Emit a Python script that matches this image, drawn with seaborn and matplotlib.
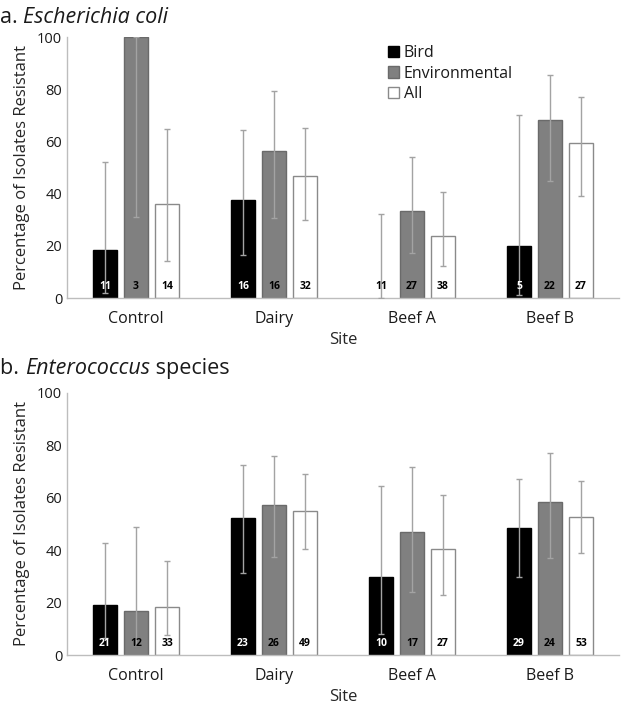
import numpy as np
import pandas as pd
import matplotlib
matplotlib.use("Agg")
import matplotlib.pyplot as plt
import seaborn as sns

# ── data ────────────────────────────────────────────────────────────────────
sites = ["Control", "Dairy", "Beef A", "Beef B"]
groups = ["Bird", "Environmental", "All"]

# a. Escherichia coli
ecoli_bird = [18.5, 37.6, 0.0, 20.1]
ecoli_env = [100.0, 56.4, 33.4, 68.1]
ecoli_all = [36.0, 46.9, 23.7, 59.3]
ecoli_bird_lo = [2.0, 16.3, 0.0, 1.3]
ecoli_bird_hi = [52.2, 64.3, 32.2, 70.3]
ecoli_env_lo = [31.2, 30.6, 17.2, 44.9]
ecoli_env_hi = [100.0, 79.3, 54.1, 85.3]
ecoli_all_lo = [14.0, 29.7, 12.1, 39.1]
ecoli_all_hi = [64.6, 65.2, 40.7, 77.0]
ecoli_n_bird = [11, 16, 11, 5]
ecoli_n_env = [3, 16, 27, 22]
ecoli_n_all = [14, 32, 38, 27]

# b. Enterococcus species
entero_bird = [19.0, 52.2, 29.9, 48.3]
entero_env = [16.7, 57.3, 46.9, 58.3]
entero_all = [18.2, 55.0, 40.6, 52.7]
entero_bird_lo = [6.4, 31.2, 8.0, 29.7]
entero_bird_hi = [42.7, 72.6, 64.6, 67.1]
entero_env_lo = [4.0, 37.3, 24.0, 37.0]
entero_env_hi = [49.0, 76.0, 71.6, 77.1]
entero_all_lo = [7.5, 40.4, 22.9, 38.9]
entero_all_hi = [36.0, 69.2, 61.0, 66.5]
entero_n_bird = [21, 23, 10, 29]
entero_n_env = [12, 26, 17, 24]
entero_n_all = [33, 49, 27, 53]

FACE = {"Bird": "#000000", "Environmental": "#808080", "All": "#ffffff"}
EDGE = {"Bird": "#000000", "Environmental": "#6a6a6a", "All": "#8a8a8a"}
NCOL = {"Bird": "white", "Environmental": "black", "All": "black"}
FONT = ["Open Sans", "DejaVu Sans"]

sns.set_theme(style="white")
plt.rcParams["font.family"] = FONT
plt.rcParams["text.color"] = "#1a1a1a"


def panel(ax, vals, los, his, ns):
    df = pd.DataFrame({
        "Site": sites * 3,
        "Group": np.repeat(groups, len(sites)),
        "Value": vals[0] + vals[1] + vals[2],
    })
    sns.barplot(data=df, x="Site", y="Value", hue="Group", order=sites,
                hue_order=groups, palette=FACE, width=0.675, gap=0.2,
                errorbar=None, ax=ax, legend=False)
    for g, cont, v, lo, hi, n in zip(groups, ax.containers, vals, los, his, ns):
        xs = []
        for p in cont.patches:
            p.set_edgecolor(EDGE[g])
            p.set_linewidth(1.0)
            if p.get_height() == 0:
                p.set_visible(False)
            xs.append(p.get_x() + p.get_width() / 2)
        v = np.array(v)
        yerr = [v - np.array(lo), np.array(hi) - v]
        ax.errorbar(xs, v, yerr=yerr, fmt="none", ecolor="#a3a3a3",
                    elinewidth=1.0, capsize=2, capthick=1.0, zorder=3)
        for x, c, h in zip(xs, n, v):
            col = NCOL[g] if h > 0 else "black"
            ax.text(x, 4.5, str(c), ha="center", va="center", fontsize=7.5,
                    fontweight="bold", color=col, zorder=4)
    ax.set_ylim(0, 100)
    ax.set_xlim(-0.5, 3.5)
    ax.set_yticks(range(0, 101, 20))
    ax.tick_params(axis="both", length=0, labelsize=10.5, colors="#1a1a1a")
    ax.tick_params(axis="x", labelsize=11.5, pad=9)
    ax.set_ylabel("Percentage of Isolates Resistant", fontsize=12, labelpad=5)
    ax.set_xlabel("Site", fontsize=12, labelpad=4)
    for s in ["top", "right"]:
        ax.spines[s].set_visible(False)
    for s in ["left", "bottom"]:
        ax.spines[s].set_color("#bdbdbd")
        ax.spines[s].set_linewidth(1.0)


fig = plt.figure(figsize=(6.25, 7.04), dpi=100)
ax1 = fig.add_axes([0.1072, 0.5767, 0.8832, 0.3707])
ax2 = fig.add_axes([0.1072, 0.0696, 0.8832, 0.3722])

panel(ax1, [ecoli_bird, ecoli_env, ecoli_all],
      [ecoli_bird_lo, ecoli_env_lo, ecoli_all_lo],
      [ecoli_bird_hi, ecoli_env_hi, ecoli_all_hi],
      [ecoli_n_bird, ecoli_n_env, ecoli_n_all])
panel(ax2, [entero_bird, entero_env, entero_all],
      [entero_bird_lo, entero_env_lo, entero_all_lo],
      [entero_bird_hi, entero_env_hi, entero_all_hi],
      [entero_n_bird, entero_n_env, entero_n_all])

# legend in top panel
handles = [plt.Rectangle((0, 0), 1, 1, facecolor=FACE[g], edgecolor=EDGE[g], lw=1.0)
           for g in groups]
ax1.legend(handles, groups, loc="upper left", bbox_to_anchor=(0.555, 1.025),
           frameon=False, fontsize=11.5, handlelength=0.7, handleheight=0.7,
           handletextpad=0.3, labelspacing=0.3)

# panel titles with italic species names
TS = 15.5
t1 = fig.text(0.0, 0.975, "a. ", fontsize=TS, va="center", ha="left")
ax1.annotate("Escherichia coli", xy=(1, 0), xycoords=t1, va="bottom",
             fontsize=TS, style="italic", annotation_clip=False)
t2 = fig.text(0.0, 0.476, "b. ", fontsize=TS, va="center", ha="left")
t3 = ax2.annotate("Enterococcus", xy=(1, 0), xycoords=t2, va="bottom",
                  fontsize=TS, style="italic", annotation_clip=False)
ax2.annotate(" species", xy=(1, 0), xycoords=t3, va="bottom",
             fontsize=TS, annotation_clip=False)

fig.savefig("out.png", dpi=100)
